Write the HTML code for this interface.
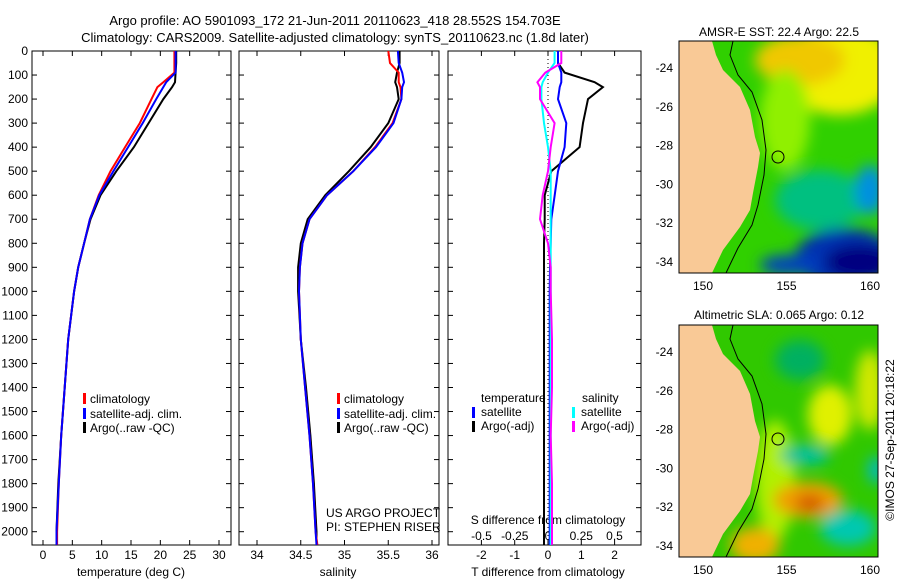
<!DOCTYPE html>
<html><head><meta charset="utf-8"><style>
body{margin:0;background:#fff;}
svg{display:block;font-family:"Liberation Sans",sans-serif;}
text{font-size:12px;fill:#000;}
</style></head><body>
<svg id="s" width="900" height="580" viewBox="0 0 900 580" xmlns="http://www.w3.org/2000/svg">
<defs>
<filter id="bl" x="-20%" y="-20%" width="140%" height="140%"><feGaussianBlur stdDeviation="7"/></filter>
<clipPath id="c1"><rect x="679" y="41" width="199" height="232"/></clipPath>
<clipPath id="c2"><rect x="679" y="325" width="199" height="232"/></clipPath>
</defs>
<text x="335" y="25" text-anchor="middle" style="font-size:13px">Argo profile: AO 5901093_172 21-Jun-2011 20110623_418 28.552S 154.703E</text>
<text x="335" y="42" text-anchor="middle" style="font-size:13px">Climatology: CARS2009. Satellite-adjusted climatology: synTS_20110623.nc (1.8d later)</text>
<g id="g"></g>

<g clip-path="url(#c1)">
<rect x="679" y="41" width="199" height="232" fill="#30d000"/>
<g filter="url(#bl)">
<ellipse cx="840" cy="70" rx="60" ry="45" fill="#f0f000"/>
<ellipse cx="800" cy="60" rx="45" ry="25" fill="#f0c800"/>
<ellipse cx="785" cy="120" rx="25" ry="50" fill="#90f000"/>
<ellipse cx="820" cy="200" rx="45" ry="30" fill="#00c080"/>
<ellipse cx="870" cy="190" rx="15" ry="25" fill="#0090e0"/>
<ellipse cx="845" cy="258" rx="50" ry="30" fill="#0030b0"/>
<ellipse cx="860" cy="262" rx="35" ry="18" fill="#000080"/>
<ellipse cx="790" cy="265" rx="30" ry="10" fill="#0040c0"/>
</g>
<polygon fill="#f9c996" points="679,41 712,41 716,55 723,70 740,87 750,110 755,137 760,153 758,167 753,193 750,210 740,227 723,250 712,273 679,273"/>
<polyline fill="none" stroke="#000" stroke-width="1" points="733,41 730,55 738,75 752,92 762,120 766,150 764,175 758,205 752,225 738,248 726,273"/>
<circle cx="778" cy="157" r="6" fill="none" stroke="#000"/>
</g>
<rect x="679" y="41" width="199" height="232" fill="none" stroke="#000"/>
<text x="779" y="36" text-anchor="middle">AMSR-E SST: 22.4  Argo: 22.5</text>

<g clip-path="url(#c2)">
<rect x="679" y="325" width="199" height="232" fill="#30c800"/>
<g filter="url(#bl)">
<ellipse cx="775" cy="480" rx="20" ry="60" fill="#b0f000"/>
<ellipse cx="830" cy="415" rx="22" ry="30" fill="#e0f000"/>
<ellipse cx="870" cy="390" rx="15" ry="40" fill="#d0e800"/>
<ellipse cx="808" cy="500" rx="35" ry="18" fill="#f0a000"/>
<ellipse cx="810" cy="503" rx="15" ry="8" fill="#d05000"/>
<ellipse cx="755" cy="545" rx="25" ry="18" fill="#f0b000"/>
<ellipse cx="805" cy="455" rx="25" ry="10" fill="#00c0a0"/>
<ellipse cx="848" cy="528" rx="28" ry="18" fill="#00c8b0"/>
<ellipse cx="800" cy="360" rx="25" ry="20" fill="#00b060"/>
<ellipse cx="876" cy="470" rx="8" ry="14" fill="#00b8c8"/>
</g>
<polygon fill="#f9c996" points="679,325 712,325 716,339 723,354 740,371 750,394 755,421 760,437 758,451 753,477 750,494 740,511 723,534 712,557 679,557"/>
<polyline fill="none" stroke="#000" stroke-width="1" points="733,325 730,339 738,359 752,376 762,404 766,434 764,459 758,489 752,509 738,532 726,557"/>
<circle cx="778" cy="439" r="6" fill="none" stroke="#000"/>
</g>
<rect x="679" y="325" width="199" height="232" fill="none" stroke="#000"/>
<text x="779" y="319" text-anchor="middle">Altimetric SLA: 0.065  Argo: 0.12</text>
<text transform="translate(894,440) rotate(-90)" text-anchor="middle">©IMOS 27-Sep-2011 20:18:22</text>
</svg>
<script>
const depths=[0,50,90,130,150,200,300,400,500,600,700,800,900,1000,1200,1400,1600,1800,2000,2055];
const tempClim=[22.4,22.4,22.4,20.5,19.5,18.5,16.5,14,11.5,9.5,8,7,6,5.3,4.3,3.7,3.1,2.7,2.4,2.4];
const tempSat=[22.6,22.6,22.6,21,20.5,19.3,17,14.5,12,9.6,8,7,6,5.3,4.3,3.7,3.1,2.7,2.3,2.3];
const tempArgo=[22.7,22.7,22.6,22.5,22,20.5,18,15.5,12.5,9.8,8.1,7,6,5.3,4.3,3.7,3.1,2.6,2.3,2.3];
const salClim=[35.5,35.52,35.62,35.62,35.64,35.65,35.55,35.35,35.1,34.8,34.6,34.52,34.49,34.48,34.5,34.55,34.6,34.64,34.67,34.69];
const salSat=[35.61,35.62,35.66,35.68,35.66,35.65,35.56,35.36,35.1,34.8,34.6,34.52,34.49,34.48,34.5,34.55,34.6,34.64,34.67,34.68];
const salArgo=[35.63,35.63,35.6,35.58,35.6,35.62,35.5,35.3,35.05,34.78,34.58,34.5,34.47,34.47,34.5,34.56,34.61,34.65,34.68,34.68];
const dTArgo=[0.3,0.3,0.5,1.4,1.65,1.2,1.05,0.95,0.1,-0.1,-0.1,-0.12,-0.12,-0.12,-0.12,-0.12,-0.12,-0.12,-0.12,-0.12];
const dTSat=[0.3,0.3,0.4,0.4,0.35,0.3,0.55,0.5,0.3,0.2,0.1,0.08,0.06,0.05,0.05,0.05,0.05,0.05,0.05,0.05];
const dSSat=[0.05,0.05,0.0,-0.04,-0.05,-0.05,-0.03,0.0,0.02,0.02,0.02,0.02,0.02,0.02,0.02,0.02,0.02,0.02,0.02,0.02];
const dSArgo=[0.1,0.1,-0.02,-0.08,-0.06,-0.06,0.05,0.02,0.0,-0.04,-0.06,0.0,0.02,0.02,0.03,0.03,0.02,0.03,0.03,0.03];
const depthTicks=[0,100,200,300,400,500,600,700,800,900,1000,1100,1200,1300,1400,1500,1600,1700,1800,1900,2000];
const tempTicks=[0,5,10,15,20,25,30];
const salTicks=[34,34.5,35,35.5,36];
const dTTicks=[-2,-1,0,1,2];
const dSTicks=[-0.5,-0.25,0,0.25,0.5];
const dSTickLabels=["-0.5","-0.25","0","0.25","0.5"];

const NS="http://www.w3.org/2000/svg";
const G=document.getElementById('g');
function el(t,a,p){const e=document.createElementNS(NS,t);for(const k in a)e.setAttribute(k,a[k]);(p||G).appendChild(e);return e;}
const Y=d=>51+d*0.24035;
const yTop=51,yBot=545;
const xT=v=>43+v*5.867, xS=v=>257+(v-34)*87.5, xDT=v=>548+v*33.3, xDS=v=>548+v*133;

function frame(x0,x1,name){
  const r=el('rect',{x:x0,y:yTop,width:x1-x0,height:yBot-yTop,fill:'none',stroke:'#000'});
  
  
  depthTicks.forEach(d=>{
    el('line',{x1:x0,x2:x0+5,y1:Y(d),y2:Y(d),stroke:'#000'});
    el('line',{x1:x1,x2:x1-5,y1:Y(d),y2:Y(d),stroke:'#000'});
  });
}
function xticks(ticks,f,labels,ly,name){
  ticks.forEach((v,i)=>{
    const x=f(v);
    el('line',{x1:x,x2:x,y1:yBot,y2:yBot-5,stroke:'#000'});
    el('line',{x1:x,x2:x,y1:yTop,y2:yTop+5,stroke:'#000'});
    const t=el('text',{x:x,y:ly,'text-anchor':'middle'});t.textContent=labels?labels[i]:String(v);
    
    
  });
}
function line(vals,f,color,name){
  const p=vals.map((v,i)=>f(v).toFixed(1)+','+Y(depths[i]).toFixed(1)).join(' ');
  const e=el('polyline',{points:p,fill:'none',stroke:color,'stroke-width':2});
  
  
}
function txt(x,y,s,name,anchor){const t=el('text',{x:x,y:y,'text-anchor':anchor||'start'});t.textContent=s;
  
  return t;}
function mark(x,y,c){el('rect',{x:x,y:y-10,width:3,height:11,fill:c});}

frame(32,231,'temperature-panel');
depthTicks.forEach(d=>{txt(28,Y(d)+4,String(d),'depth-tick-label','end');});
xticks(tempTicks,xT,null,559,'temperature-tick-label');
txt(131,576,'temperature (deg C)','temperature-axis-title','middle');
line(tempArgo,xT,'#000','argo-temperature-line');
line(tempClim,xT,'#f00','climatology-temperature-line');
line(tempSat,xT,'#00f','satellite-temperature-line');
mark(83,403,'#f00');txt(90,403,'climatology','legend-climatology');
mark(83,418,'#00f');txt(90,418,'satellite-adj. clim.','legend-satellite');
mark(83,432,'#000');txt(90,432,'Argo(..raw -QC)','legend-argo');

frame(239,439,'salinity-panel');
xticks(salTicks,xS,null,559,'salinity-tick-label');
txt(338,576,'salinity','salinity-axis-title','middle');
line(salArgo,xS,'#000','argo-salinity-line');
line(salClim,xS,'#f00','climatology-salinity-line');
line(salSat,xS,'#00f','satellite-salinity-line');
mark(337,403,'#f00');txt(344,403,'climatology','legend-climatology-2');
mark(337,418,'#00f');txt(344,418,'satellite-adj. clim.','legend-satellite-2');
mark(337,432,'#000');txt(344,432,'Argo(..raw -QC)','legend-argo-2');
txt(326,517,'US ARGO PROJECT','project-credit');
txt(326,531,'PI: STEPHEN RISER','pi-credit');

frame(448,641,'difference-panel');
el('line',{x1:548,x2:548,y1:yTop,y2:yBot,stroke:'#000','stroke-dasharray':'1,3'});
xticks(dTTicks,xDT,null,559,'t-difference-tick-label');
dSTicks.forEach((v,i)=>{txt(xDS(v),540,dSTickLabels[i],'s-difference-tick-label','middle');});
txt(548,524,'S difference from climatology','s-difference-axis-title','middle');
txt(548,576,'T difference from climatology','t-difference-axis-title','middle');
line(dTArgo,xDT,'#000','argo-t-difference-line');
line(dTSat,xDT,'#00f','satellite-t-difference-line');
line(dSSat,xDS,'#0ff','satellite-s-difference-line');
line(dSArgo,xDS,'#f0f','argo-s-difference-line');
txt(481,402,'temperature','legend-temperature-header');
txt(582,402,'salinity','legend-salinity-header');
mark(472,417,'#00f');txt(481,416,'satellite','legend-t-satellite');
mark(472,431,'#000');txt(481,430,'Argo(-adj)','legend-t-argo');
mark(572,417,'#0ff');txt(581,416,'satellite','legend-s-satellite');
mark(572,431,'#f0f');txt(581,430,'Argo(-adj)','legend-s-argo');

function mapAxes(y0,h,lat24,lat34,name){
  const lx=v=>703+(v-150)*16.7;
  const ly=v=>lat24+(-24-v)*(lat34-lat24)/10;
  [150,155,160].forEach(v=>{const x=lx(v);el('line',{x1:x,x2:x,y1:y0+h,y2:y0+h-4,stroke:'#000'});el('line',{x1:x,x2:x,y1:y0,y2:y0+4,stroke:'#000'});
    txt(x,y0+h+17,String(v),name+'-lon-label','middle');});
  [-24,-26,-28,-30,-32,-34].forEach(v=>{const y=ly(v);el('line',{x1:679,x2:683,y1:y,y2:y,stroke:'#000'});el('line',{x1:878,x2:874,y1:y,y2:y,stroke:'#000'});
    txt(673,y+4,String(v),name+'-lat-label','end');});
}
mapAxes(41,232,68,262,'sst-map');
mapAxes(325,232,352,546,'sla-map');
</script>
</body></html>
